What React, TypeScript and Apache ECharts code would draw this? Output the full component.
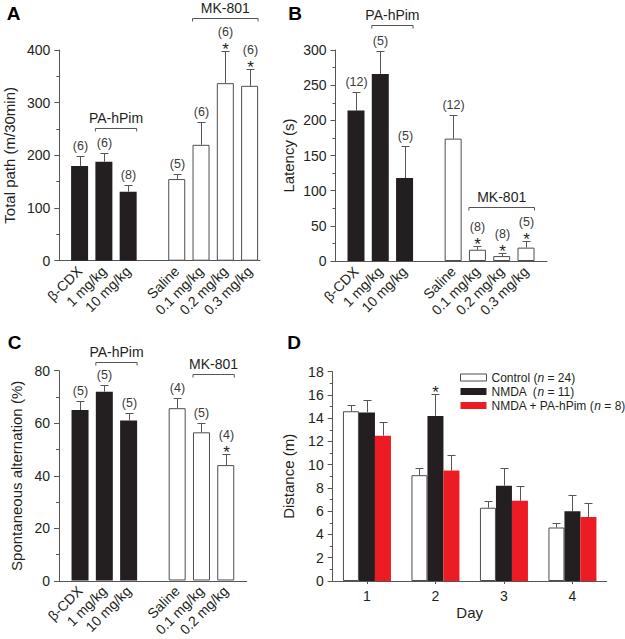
import React, { useEffect, useRef } from "react";
import * as echarts from "echarts";

const FONT = "'Liberation Sans', Arial, Helvetica, sans-serif";
const BLACK = "#231f20";
const EDGE = "#4d4d4d";
const AXIS = "#555555";
const ERR = "#555555";
const TEXT = "#231f20";
const NCOL = "#3a3a3a";
const RED = "#ed1c24";

// ---------- Panel A: total path ----------
const catsA = ["β-CDX", "1 mg/kg", "10 mg/kg", "", "Saline", "0.1 mg/kg", "0.2 mg/kg", "0.3 mg/kg"];
const paA = [180, 188, 131, null, null, null, null, null];
const mkA = [null, null, null, null, 155, 220, 337, 332];
const semA = [18, 17, 13, null, 10, 44, 62, 31];
const nA = [6, 6, 8, null, 5, 6, 6, 6];
const starA = [0, 0, 0, 0, 0, 0, 1, 1];
const bracketsA = [
  { label: "PA-hPim", from: 1, to: 2, level: 251 },
  { label: "MK-801", from: 5, to: 7, level: 460 },
];

// ---------- Panel B: latency ----------
const catsB = ["β-CDX", "1 mg/kg", "10 mg/kg", "", "Saline", "0.1 mg/kg", "0.2 mg/kg", "0.3 mg/kg"];
const paB = [214, 266, 118, null, null, null, null, null];
const mkB = [null, null, null, null, 174, 16, 7, 19];
const semB = [26, 32, 46, null, 34, 6, 4, 9];
const nB = [12, 5, 5, null, 12, 8, 8, 5];
const starB = [0, 0, 0, 0, 0, 1, 1, 1];
const bracketsB = [
  { label: "PA-hPim", from: 1, to: 2, level: 336 },
  { label: "MK-801", from: 5, to: 7, level: 77 },
];

// ---------- Panel C: spontaneous alternation ----------
const catsC = ["β-CDX", "1 mg/kg", "10 mg/kg", "", "Saline", "0.1 mg/kg", "0.2 mg/kg"];
const paC = [65, 72, 61, null, null, null, null];
const mkC = [null, null, null, null, 65.7, 56.5, 44];
const semC = [3.6, 2.4, 2.7, null, 3.7, 3.4, 4.2];
const nC = [5, 5, 5, null, 4, 5, 4];
const starC = [0, 0, 0, 0, 0, 0, 1];
const bracketsC = [
  { label: "PA-hPim", from: 1, to: 2, level: 83.4 },
  { label: "MK-801", from: 5, to: 6, level: 78.6 },
];

// ---------- Panel D: distance by day ----------
const days = ["1", "2", "3", "4"];
const controlD = [14.6, 9.1, 6.3, 4.6];
const controlSemD = [0.5, 0.6, 0.6, 0.4];
const nmdaD = [14.5, 14.2, 8.2, 6.0];
const nmdaSemD = [1.1, 1.9, 1.5, 1.4];
const comboD = [12.5, 9.5, 6.9, 5.5];
const comboSemD = [1.2, 1.3, 1.3, 1.2];
const nmdaStarD = [0, 1, 0, 0];

const legendText: Record<string, string> = {
  Control: "Control ({i|n} = 24)",
  NMDA: "NMDA  ({i|n} = 11)",
  "NMDA + PA-hPim": "NMDA + PA-hPim ({i|n} = 8)",
};

const dash = (arr: (number | null)[]) => arr.map((v) => (v == null ? "-" : v));

function errData(pa: (number | null)[], mk: (number | null)[], sem: (number | null)[], n: (number | null)[], star: number[]) {
  const out: number[][] = [];
  pa.forEach((v, i) => {
    const m = v != null ? v : mk[i];
    if (m == null) return;
    out.push([i, m, sem[i] as number, (n[i] as number) || 0, star[i] || 0]);
  });
  return out;
}

function errRender(offset: number) {
  return (params: any, api: any) => {
    const i = api.value(0);
    const m = api.value(1);
    const e = api.value(2);
    const n = api.value(3);
    const s = api.value(4);
    const p0 = api.coord([i, m]);
    const p1 = api.coord([i, m + e]);
    const x = Math.round(p0[0] + offset) + 0.5;
    const y0 = p0[1];
    const y1 = Math.round(p1[1]) + 0.5;
    const children: any[] = [
      { type: "line", shape: { x1: x, y1: y0, x2: x, y2: y1 }, style: { stroke: ERR, lineWidth: 1 } },
      { type: "line", shape: { x1: x - 4, y1: y1, x2: x + 4, y2: y1 }, style: { stroke: ERR, lineWidth: 1 } },
    ];
    if (s) {
      children.push({
        type: "text",
        x,
        y: y1 - 2,
        style: { text: "*", fontSize: 17, fontFamily: FONT, fill: TEXT, align: "center", verticalAlign: "middle" },
      });
    }
    if (n) {
      children.push({
        type: "text",
        x,
        y: y1 - (s ? 20 : 10.5),
        style: { text: `(${n})`, fontSize: 12.5, fontFamily: FONT, fill: NCOL, align: "center", verticalAlign: "middle" },
      });
    }
    return { type: "group", children };
  };
}

function bracketRender(list: { label: string }[], half: number) {
  return (params: any, api: any) => {
    const a = api.coord([api.value(0), api.value(2)]);
    const b = api.coord([api.value(1), api.value(2)]);
    const y = Math.round(a[1]) + 0.5;
    const x1 = a[0] - half;
    const x2 = b[0] + half;
    return {
      type: "group",
      children: [
        {
          type: "polyline",
          shape: { points: [[x1, y + 3], [x1, y], [x2, y], [x2, y + 3]] },
          style: { stroke: ERR, lineWidth: 1, fill: "none" },
        },
        {
          type: "text",
          x: (x1 + x2) / 2,
          y: y - 11,
          style: {
            text: list[params.dataIndex].label,
            fontSize: 14,
            fontFamily: FONT,
            fill: TEXT,
            align: "center",
            verticalAlign: "middle",
          },
        },
      ],
    };
  };
}

const frameX = (gi: number) => ({
  gridIndex: gi,
  type: "value",
  min: 0,
  max: 1,
  axisLine: { show: true, lineStyle: { color: AXIS, width: 1 } },
  axisTick: { show: false },
  axisLabel: { show: false },
  splitLine: { show: false },
});

const frameY = (gi: number, max: number, step: number, name: string, nameGap: number) => ({
  gridIndex: gi,
  type: "value",
  min: 0,
  max,
  interval: step,
  name,
  nameLocation: "middle",
  nameGap,
  nameTextStyle: { fontSize: 15, fontFamily: FONT, color: TEXT },
  axisLine: { show: true, lineStyle: { color: AXIS, width: 1 } },
  axisTick: { show: true, length: 5, lineStyle: { color: AXIS } },
  minorTick: { show: true, splitNumber: 2, length: 3, lineStyle: { color: AXIS } },
  axisLabel: { fontSize: 14, fontFamily: FONT, color: TEXT, margin: 9 },
  splitLine: { show: false },
  minorSplitLine: { show: false },
});

const barX = (gi: number, cats: string[]) => ({
  gridIndex: gi,
  type: "category",
  data: cats,
  axisLine: { show: false },
  axisTick: { show: false },
  axisLabel: { rotate: 45, interval: 0, fontSize: 14, fontFamily: FONT, color: TEXT, margin: 8 },
  splitLine: { show: false },
});

const barY = (gi: number, max: number) => ({ gridIndex: gi, type: "value", min: 0, max, show: false });

function panelSeries(gi: number, pa: any[], mk: any[], sem: any[], n: any[], star: number[], brackets: any[]) {
  return [
    {
      type: "bar",
      xAxisIndex: gi,
      yAxisIndex: gi,
      data: dash(pa),
      barWidth: 17,
      barGap: "-100%",
      itemStyle: { color: BLACK },
      silent: true,
    },
    {
      type: "bar",
      xAxisIndex: gi,
      yAxisIndex: gi,
      data: dash(mk),
      barWidth: 17,
      barGap: "-100%",
      itemStyle: { color: "#ffffff", borderColor: EDGE, borderWidth: 1 },
      silent: true,
    },
    {
      type: "custom",
      xAxisIndex: gi,
      yAxisIndex: gi,
      data: errData(pa, mk, sem, n, star),
      renderItem: errRender(0),
      encode: { x: 0, y: 1 },
      clip: false,
      silent: true,
      z: 5,
    },
    {
      type: "custom",
      xAxisIndex: gi,
      yAxisIndex: gi,
      data: brackets.map((b: any) => [b.from, b.to, b.level]),
      renderItem: bracketRender(brackets, 8.5),
      encode: { x: [0, 1], y: 2 },
      clip: false,
      silent: true,
      z: 5,
    },
  ];
}

function dErr(vals: number[], sems: number[], stars: number[]) {
  return vals.map((v, i) => [i, v, sems[i], 0, stars[i] || 0]);
}

export default function App() {
  const ref = useRef<HTMLDivElement>(null);
  useEffect(() => {
    document.body.style.margin = "0";
    if (!ref.current) return;
    const chart = echarts.init(ref.current, null, { renderer: "svg" });
    const option: any = {
      animation: false,
      textStyle: { fontFamily: FONT },
      grid: [
        { left: 59.3, top: 50, width: 200.7, height: 210.7 },
        { left: 67.45, top: 50, width: 194.3, height: 210.7 },
        { left: 335.5, top: 50, width: 211.5, height: 211 },
        { left: 343.85, top: 50, width: 194.3, height: 211 },
        { left: 59, top: 370.7, width: 187.7, height: 210.3 },
        { left: 67.9, top: 370.7, width: 170, height: 210.3 },
        { left: 332.7, top: 371.7, width: 274, height: 209.3 },
      ],
      xAxis: [
        frameX(0),
        barX(1, catsA),
        frameX(2),
        barX(3, catsB),
        frameX(4),
        barX(5, catsC),
        {
          gridIndex: 6,
          type: "category",
          data: days,
          name: "Day",
          nameLocation: "middle",
          nameGap: 24,
          nameTextStyle: { fontSize: 15, fontFamily: FONT, color: TEXT },
          axisLine: { show: true, lineStyle: { color: AXIS, width: 1 } },
          axisTick: { show: true, alignWithLabel: true, length: 3, lineStyle: { color: AXIS } },
          axisLabel: { fontSize: 14, fontFamily: FONT, color: TEXT, margin: 8 },
        },
      ],
      yAxis: [
        frameY(0, 400, 100, "Total path (m/30min)", 42),
        barY(1, 400),
        frameY(2, 300, 50, "Latency (s)", 40),
        barY(3, 300),
        frameY(4, 80, 20, "Spontaneous alternation (%)", 35),
        barY(5, 80),
        frameY(6, 18, 2, "Distance (m)", 37),
      ],
      legend: {
        orient: "vertical",
        left: 460,
        top: 370.5,
        padding: 0,
        itemWidth: 26,
        itemHeight: 7,
        itemGap: 0,
        icon: "rect",
        formatter: (name: string) => legendText[name] || name,
        textStyle: {
          fontSize: 12,
          fontFamily: FONT,
          color: TEXT,
          lineHeight: 14,
          rich: { i: { fontStyle: "italic", fontSize: 12, fontFamily: FONT, color: TEXT, lineHeight: 14 } },
        },
        data: [
          { name: "Control", itemStyle: { color: "#ffffff", borderColor: EDGE, borderWidth: 1 } },
          { name: "NMDA", itemStyle: { color: BLACK } },
          { name: "NMDA + PA-hPim", itemStyle: { color: RED } },
        ],
      },
      graphic: [
        { type: "text", x: 13.5, y: 13.5, style: { text: "A", fontSize: 19, fontWeight: "bold", fontFamily: FONT, fill: "#000", align: "center", verticalAlign: "middle" } },
        { type: "text", x: 295, y: 13.5, style: { text: "B", fontSize: 19, fontWeight: "bold", fontFamily: FONT, fill: "#000", align: "center", verticalAlign: "middle" } },
        { type: "text", x: 14.5, y: 342.5, style: { text: "C", fontSize: 19, fontWeight: "bold", fontFamily: FONT, fill: "#000", align: "center", verticalAlign: "middle" } },
        { type: "text", x: 294, y: 342.5, style: { text: "D", fontSize: 19, fontWeight: "bold", fontFamily: FONT, fill: "#000", align: "center", verticalAlign: "middle" } },
      ],
      series: [
        ...panelSeries(1, paA, mkA, semA, nA, starA, bracketsA),
        ...panelSeries(3, paB, mkB, semB, nB, starB, bracketsB),
        ...panelSeries(5, paC, mkC, semC, nC, starC, bracketsC),
        {
          name: "Control",
          type: "bar",
          xAxisIndex: 6,
          yAxisIndex: 6,
          data: controlD,
          barWidth: 16,
          barGap: "0%",
          itemStyle: { color: "#ffffff", borderColor: EDGE, borderWidth: 1 },
          silent: true,
        },
        {
          name: "NMDA",
          type: "bar",
          xAxisIndex: 6,
          yAxisIndex: 6,
          data: nmdaD,
          barWidth: 16,
          barGap: "0%",
          itemStyle: { color: BLACK },
          silent: true,
        },
        {
          name: "NMDA + PA-hPim",
          type: "bar",
          xAxisIndex: 6,
          yAxisIndex: 6,
          data: comboD,
          barWidth: 16,
          barGap: "0%",
          itemStyle: { color: RED },
          silent: true,
        },
        {
          type: "custom",
          xAxisIndex: 6,
          yAxisIndex: 6,
          data: dErr(controlD, controlSemD, [0, 0, 0, 0]),
          renderItem: errRender(-16),
          encode: { x: 0, y: 1 },
          clip: false,
          silent: true,
          z: 5,
        },
        {
          type: "custom",
          xAxisIndex: 6,
          yAxisIndex: 6,
          data: dErr(nmdaD, nmdaSemD, nmdaStarD),
          renderItem: errRender(0),
          encode: { x: 0, y: 1 },
          clip: false,
          silent: true,
          z: 5,
        },
        {
          type: "custom",
          xAxisIndex: 6,
          yAxisIndex: 6,
          data: dErr(comboD, comboSemD, [0, 0, 0, 0]),
          renderItem: errRender(16),
          encode: { x: 0, y: 1 },
          clip: false,
          silent: true,
          z: 5,
        },
      ],
    };
    chart.setOption(option);
    return () => chart.dispose();
  }, []);
  return <div ref={ref} style={{ width: 625, height: 639 }} />;
}
